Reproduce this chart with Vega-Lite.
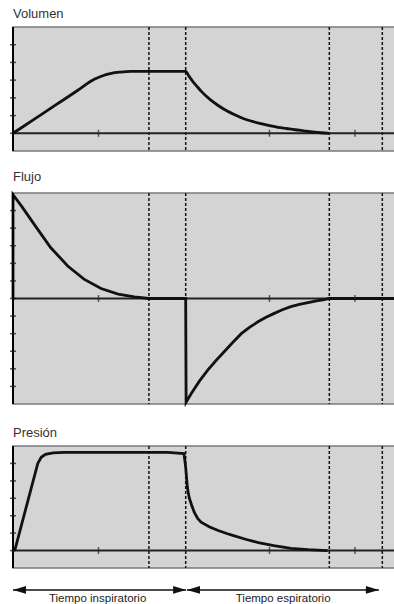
{
  "$schema": "https://vega.github.io/schema/vega-lite/v6.json",
  "autosize": {"type": "pad"},
  "padding": {"left": 6, "top": 7, "right": 0, "bottom": 0},
  "background": "white",
  "spacing": 42,
  "bounds": "flush",
  "config": {
    "view": {"fill": "#d4d4d4", "stroke": "#7a7a7a", "strokeWidth": 1.5},
    "title": {"anchor": "start", "frame": "group", "font": "Liberation Sans", "fontSize": 13, "fontWeight": "normal", "color": "#333", "baseline": "alphabetic", "offset": 5}
  },
  "datasets": {
    "one": [{}],
    "dash": [{"t": 1.59}, {"t": 2.02}, {"t": 3.7}, {"t": 4.32}],
    "xt": [{"t": 1}, {"t": 3}, {"t": 4}],
    "yt6": [{"v": 0}, {"v": 1}, {"v": 2}, {"v": 3}, {"v": 4}, {"v": 5}],
    "yt12": [{"v": -5}, {"v": -4}, {"v": -3}, {"v": -2}, {"v": -1}, {"v": 0}, {"v": 1}, {"v": 2}, {"v": 3}, {"v": 4}, {"v": 5}],
    "vol": [
      {"t": 0, "v": 0}, {"t": 0.25, "v": 0.8}, {"t": 0.5, "v": 1.6}, {"t": 0.75, "v": 2.4}, {"t": 0.95, "v": 3.05},
      {"t": 1.05, "v": 3.25}, {"t": 1.15, "v": 3.38}, {"t": 1.25, "v": 3.45}, {"t": 1.38, "v": 3.5}, {"t": 2.02, "v": 3.5},
      {"t": 2.06, "v": 3.21}, {"t": 2.1, "v": 2.95}, {"t": 2.15, "v": 2.66}, {"t": 2.2, "v": 2.38}, {"t": 2.3, "v": 1.93},
      {"t": 2.4, "v": 1.57}, {"t": 2.5, "v": 1.27}, {"t": 2.6, "v": 1.03}, {"t": 2.7, "v": 0.82}, {"t": 2.8, "v": 0.67},
      {"t": 2.9, "v": 0.54}, {"t": 3.0, "v": 0.43}, {"t": 3.1, "v": 0.34}, {"t": 3.2, "v": 0.27}, {"t": 3.3, "v": 0.2},
      {"t": 3.4, "v": 0.14}, {"t": 3.5, "v": 0.08}, {"t": 3.6, "v": 0.03}, {"t": 3.7, "v": 0}
    ],
    "flow": [
      {"t": 0, "v": 0}, {"t": 0, "v": 5.9}, {"t": 0.1, "v": 5.25}, {"t": 0.25, "v": 4.2}, {"t": 0.44, "v": 2.9},
      {"t": 0.64, "v": 1.85}, {"t": 0.83, "v": 1.1}, {"t": 1.03, "v": 0.57}, {"t": 1.23, "v": 0.25}, {"t": 1.42, "v": 0.09},
      {"t": 1.59, "v": 0}, {"t": 2.02, "v": 0}, {"t": 2.025, "v": -5.9}, {"t": 2.08, "v": -5.45}, {"t": 2.18, "v": -4.7},
      {"t": 2.28, "v": -4.06}, {"t": 2.38, "v": -3.5}, {"t": 2.47, "v": -3.03}, {"t": 2.57, "v": -2.5}, {"t": 2.67, "v": -2.0},
      {"t": 2.77, "v": -1.63}, {"t": 2.87, "v": -1.31}, {"t": 2.96, "v": -1.07}, {"t": 3.05, "v": -0.86}, {"t": 3.15, "v": -0.64},
      {"t": 3.25, "v": -0.46}, {"t": 3.35, "v": -0.33}, {"t": 3.45, "v": -0.23}, {"t": 3.55, "v": -0.14}, {"t": 3.64, "v": -0.07},
      {"t": 3.7, "v": 0}, {"t": 4.48, "v": 0}
    ],
    "pres": [
      {"t": 0.02, "v": 0}, {"t": 0.29, "v": 5.0}, {"t": 0.33, "v": 5.35}, {"t": 0.38, "v": 5.52}, {"t": 0.47, "v": 5.6},
      {"t": 0.6, "v": 5.63}, {"t": 1.81, "v": 5.63}, {"t": 2.0, "v": 5.57}, {"t": 2.02, "v": 4.77}, {"t": 2.04, "v": 3.6},
      {"t": 2.06, "v": 3.05}, {"t": 2.09, "v": 2.6}, {"t": 2.12, "v": 2.2}, {"t": 2.16, "v": 1.85}, {"t": 2.2, "v": 1.63},
      {"t": 2.3, "v": 1.35}, {"t": 2.4, "v": 1.15}, {"t": 2.5, "v": 0.98}, {"t": 2.58, "v": 0.86}, {"t": 2.72, "v": 0.65},
      {"t": 2.87, "v": 0.46}, {"t": 3.05, "v": 0.29}, {"t": 3.25, "v": 0.13}, {"t": 3.45, "v": 0.05}, {"t": 3.68, "v": 0}
    ],
    "arrows": [
      {"label": "Tiempo inspiratorio", "start": 0, "end": 2.025, "mid": 0.99},
      {"label": "Tiempo espiratorio", "start": 2.035, "end": 4.28, "mid": 3.16}
    ]
  },
  "vconcat": [
    {
      "title": {"text": "Volumen"},
      "width": 383, "height": 124,
      "layer": [
        {"data": {"name": "dash"}, "mark": {"type": "rule", "strokeDash": [3, 2], "strokeWidth": 1.5, "color": "#111"},
         "encoding": {"x": {"field": "t", "type": "quantitative", "scale": {"domain": [0, 4.48], "nice": false, "zero": false}, "axis": null}}},
        {"data": {"name": "one"}, "mark": {"type": "rule", "color": "#222", "strokeWidth": 2},
         "encoding": {"y": {"datum": 0, "type": "quantitative", "scale": {"domain": [-1, 6], "nice": false, "zero": false}, "axis": null}}},
        {"data": {"name": "vol"}, "mark": {"type": "line", "color": "#111", "strokeWidth": 2.8, "interpolate": "monotone"},
         "encoding": {
           "x": {"field": "t", "type": "quantitative", "scale": {"domain": [0, 4.48], "nice": false, "zero": false}, "axis": null},
           "y": {"field": "v", "type": "quantitative", "scale": {"domain": [-1, 6], "nice": false, "zero": false}, "axis": null}}},
        {"data": {"name": "xt"}, "mark": {"type": "tick", "orient": "vertical", "size": 7, "thickness": 1.5, "color": "#222"},
         "encoding": {"x": {"field": "t", "type": "quantitative"}, "y": {"datum": 0, "type": "quantitative"}}},
        {"data": {"name": "one"}, "mark": {"type": "rule", "color": "#000", "strokeWidth": 2}, "encoding": {"x": {"datum": 0, "type": "quantitative"}}},
        {"data": {"name": "yt6"}, "mark": {"type": "tick", "orient": "horizontal", "size": 6, "thickness": 1.5, "color": "#111"},
         "encoding": {"x": {"datum": 0, "type": "quantitative"}, "y": {"field": "v", "type": "quantitative"}}}
      ]
    },
    {
      "title": {"text": "Flujo"},
      "width": 383, "height": 211,
      "layer": [
        {"data": {"name": "dash"}, "mark": {"type": "rule", "strokeDash": [3, 2], "strokeWidth": 1.5, "color": "#111"},
         "encoding": {"x": {"field": "t", "type": "quantitative", "scale": {"domain": [0, 4.48], "nice": false, "zero": false}, "axis": null}}},
        {"data": {"name": "one"}, "mark": {"type": "rule", "color": "#222", "strokeWidth": 2},
         "encoding": {"y": {"datum": 0, "type": "quantitative", "scale": {"domain": [-6, 6], "nice": false, "zero": false}, "axis": null}}},
        {"data": {"name": "flow"}, "mark": {"type": "line", "color": "#111", "strokeWidth": 2.8},
         "encoding": {
           "x": {"field": "t", "type": "quantitative", "scale": {"domain": [0, 4.48], "nice": false, "zero": false}, "axis": null},
           "y": {"field": "v", "type": "quantitative", "scale": {"domain": [-6, 6], "nice": false, "zero": false}, "axis": null}}},
        {"data": {"name": "xt"}, "mark": {"type": "tick", "orient": "vertical", "size": 7, "thickness": 1.5, "color": "#222"},
         "encoding": {"x": {"field": "t", "type": "quantitative"}, "y": {"datum": 0, "type": "quantitative"}}},
        {"data": {"name": "one"}, "mark": {"type": "rule", "color": "#000", "strokeWidth": 2}, "encoding": {"x": {"datum": 0, "type": "quantitative"}}},
        {"data": {"name": "yt12"}, "mark": {"type": "tick", "orient": "horizontal", "size": 6, "thickness": 1.5, "color": "#111"},
         "encoding": {"x": {"datum": 0, "type": "quantitative"}, "y": {"field": "v", "type": "quantitative"}}}
      ]
    },
    {
      "title": {"text": "Presión"},
      "width": 383, "height": 122,
      "layer": [
        {"data": {"name": "dash"}, "mark": {"type": "rule", "strokeDash": [3, 2], "strokeWidth": 1.5, "color": "#111"},
         "encoding": {"x": {"field": "t", "type": "quantitative", "scale": {"domain": [0, 4.48], "nice": false, "zero": false}, "axis": null}}},
        {"data": {"name": "one"}, "mark": {"type": "rule", "color": "#222", "strokeWidth": 2},
         "encoding": {"y": {"datum": 0, "type": "quantitative", "scale": {"domain": [-1, 6], "nice": false, "zero": false}, "axis": null}}},
        {"data": {"name": "pres"}, "mark": {"type": "line", "color": "#111", "strokeWidth": 2.8},
         "encoding": {
           "x": {"field": "t", "type": "quantitative", "scale": {"domain": [0, 4.48], "nice": false, "zero": false}, "axis": null},
           "y": {"field": "v", "type": "quantitative", "scale": {"domain": [-1, 6], "nice": false, "zero": false}, "axis": null}}},
        {"data": {"name": "xt"}, "mark": {"type": "tick", "orient": "vertical", "size": 7, "thickness": 1.5, "color": "#222"},
         "encoding": {"x": {"field": "t", "type": "quantitative"}, "y": {"datum": 0, "type": "quantitative"}}},
        {"data": {"name": "one"}, "mark": {"type": "rule", "color": "#000", "strokeWidth": 2}, "encoding": {"x": {"datum": 0, "type": "quantitative"}}},
        {"data": {"name": "yt6"}, "mark": {"type": "tick", "orient": "horizontal", "size": 6, "thickness": 1.5, "color": "#111"},
         "encoding": {"x": {"datum": 0, "type": "quantitative"}, "y": {"field": "v", "type": "quantitative"}}},
        {"data": {"name": "arrows"}, "mark": {"type": "rule", "color": "#111", "strokeWidth": 1.5},
         "encoding": {"x": {"field": "start", "type": "quantitative"}, "x2": {"field": "end"}, "y": {"datum": -2.26, "type": "quantitative"}}},
        {"data": {"name": "arrows"}, "mark": {"type": "point", "shape": "M0,0L2,-0.6L2,0.6Z", "filled": true, "opacity": 1, "color": "#111", "size": 169},
         "encoding": {"x": {"field": "start", "type": "quantitative"}, "y": {"datum": -2.26, "type": "quantitative"}}},
        {"data": {"name": "arrows"}, "mark": {"type": "point", "shape": "M0,0L-2,-0.6L-2,0.6Z", "filled": true, "opacity": 1, "color": "#111", "size": 169},
         "encoding": {"x": {"field": "end", "type": "quantitative"}, "y": {"datum": -2.26, "type": "quantitative"}}},
        {"data": {"name": "arrows"}, "mark": {"type": "text", "font": "Liberation Sans", "fontSize": 11.5, "color": "#222", "align": "center", "baseline": "alphabetic"},
         "encoding": {"x": {"field": "mid", "type": "quantitative"}, "y": {"datum": -2.93, "type": "quantitative"}, "text": {"field": "label"}}}
      ]
    }
  ]
}
